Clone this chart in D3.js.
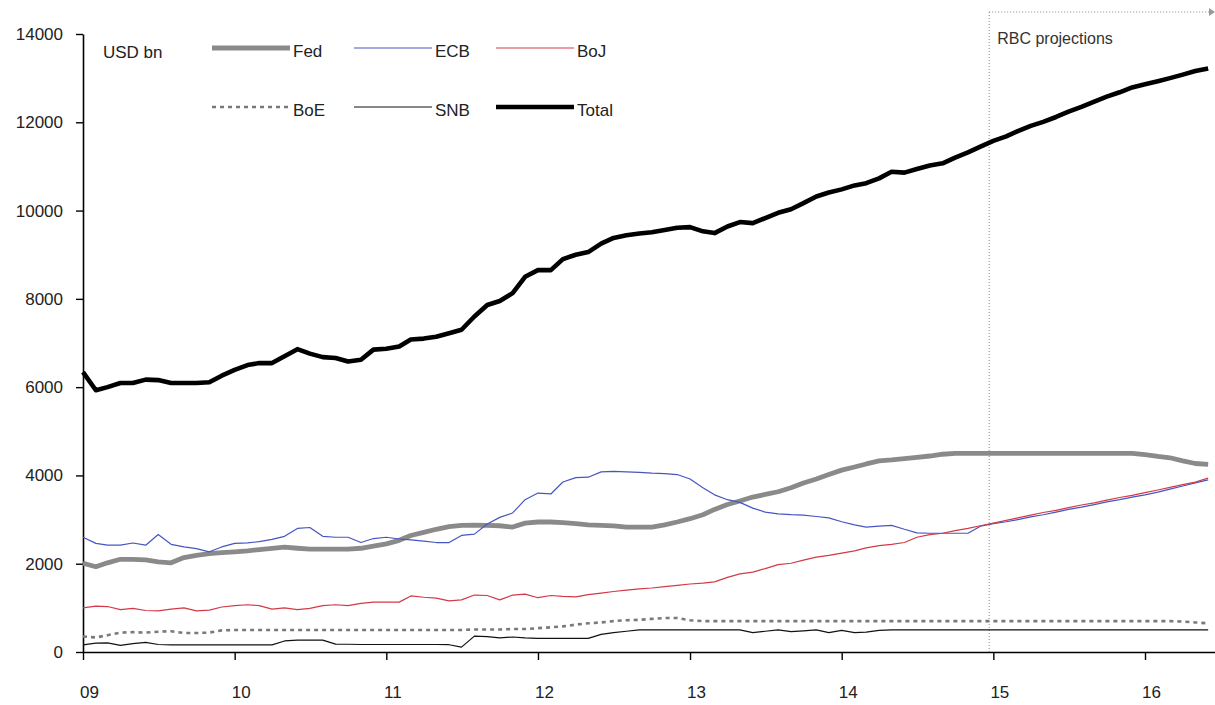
<!DOCTYPE html>
<html>
<head>
<meta charset="utf-8">
<script src="https://cdn.jsdelivr.net/npm/d3@7"></script>
<style>
  body { margin: 0; background: #fff; }
  svg text { font-family: "Liberation Sans", Arial, sans-serif; fill: #222; }
</style>
</head>
<body>
<svg id="chart" width="1215" height="705"></svg>
<script>
// Central bank balance sheets, monthly from Jan 2009, USD bn
const startMonth = "2009-01";

const fed = [
  2010, 1930, 2020, 2100, 2100, 2085, 2040, 2020, 2140, 2190,
  2230, 2250, 2270, 2290, 2320, 2350, 2375, 2350, 2330, 2330,
  2330, 2330, 2350, 2400, 2450, 2530, 2640, 2710, 2780, 2840,
  2870, 2875, 2870, 2860, 2830, 2920, 2945, 2945, 2930, 2910,
  2880, 2870, 2855, 2830, 2830, 2830, 2880, 2945, 3020, 3110,
  3230, 3340, 3420, 3510, 3570, 3630, 3720, 3830, 3920, 4020,
  4120, 4190, 4260, 4330, 4350, 4380, 4410, 4440, 4480, 4500,
  4500, 4500, 4500, 4500, 4500, 4500, 4500, 4500, 4500, 4500,
  4500, 4500, 4500, 4500, 4470, 4430, 4400, 4330, 4270, 4250
];

const ecb = [
  2600, 2460, 2420, 2420, 2470, 2420, 2660, 2440, 2380, 2340,
  2270, 2380, 2460, 2470, 2500, 2550, 2620, 2800, 2820, 2620,
  2600, 2600, 2480, 2570, 2600, 2560, 2540, 2510, 2480, 2480,
  2640, 2670, 2900, 3050, 3150, 3450, 3600, 3580, 3850, 3950,
  3960, 4080, 4090, 4080, 4070, 4050, 4040, 4020, 3920, 3720,
  3560, 3450, 3390, 3260, 3170, 3130, 3110, 3100, 3070, 3040,
  2950, 2880, 2830, 2850, 2870, 2780, 2700, 2690, 2690, 2690,
  2690, 2850, 2910, 2950, 3000, 3060, 3110, 3170, 3230, 3280,
  3340, 3400, 3450, 3510, 3560, 3620, 3690, 3760, 3830, 3900
];

const boj = [
  1000, 1040, 1030, 960, 990, 940, 930, 970, 1000, 930,
  950, 1020, 1050, 1070, 1050, 970, 1000, 960, 990, 1050,
  1070, 1050, 1100, 1130, 1130, 1130, 1270, 1240, 1220, 1160,
  1180, 1290, 1280, 1180, 1290, 1310, 1230, 1280, 1260, 1250,
  1300, 1335, 1370, 1400, 1430, 1450, 1480, 1510, 1540, 1560,
  1590, 1690, 1770, 1810, 1890, 1980, 2010, 2080, 2150, 2190,
  2240, 2290, 2360, 2410, 2440, 2480, 2600, 2660, 2690, 2750,
  2800, 2860, 2920, 2980, 3040, 3100, 3160, 3210, 3270, 3330,
  3380, 3440, 3500, 3550, 3610, 3670, 3730, 3790, 3850, 3940
];

const boe = [
  350, 330, 380, 440, 450, 440, 460, 470, 430, 430,
  440, 490, 500, 500, 500, 500, 500, 500, 500, 500,
  500, 500, 500, 500, 500, 500, 500, 500, 500, 500,
  500, 510, 510, 510, 520, 520, 540, 560, 580, 620,
  650, 670, 700, 720, 730, 750, 770, 770, 720, 700,
  700, 700, 700, 700, 700, 700, 700, 700, 700, 700,
  700, 700, 700, 700, 700, 700, 700, 700, 700, 700,
  700, 700, 700, 700, 700, 700, 700, 700, 700, 700,
  700, 700, 700, 700, 700, 700, 700, 690, 670, 650
];

const snb = [
  160, 200, 205, 150, 190, 220, 170, 160, 160, 160,
  160, 160, 160, 160, 160, 160, 250, 270, 270, 270,
  180, 175, 170, 170, 170, 170, 170, 170, 170, 165,
  110, 360, 350, 320, 340, 320, 310, 310, 310, 310,
  310, 400, 440, 470, 500, 500, 500, 500, 500, 500,
  500, 500, 500, 440, 470, 500, 460, 480, 500, 440,
  490, 440, 450, 490, 500, 500, 500, 500, 500, 500,
  500, 500, 500, 500, 500, 500, 500, 500, 500, 500,
  500, 500, 500, 500, 500, 500, 500, 500, 500, 500
];

const total = [
  6340, 5930, 6000, 6093, 6093, 6170, 6160, 6093, 6093, 6093,
  6110, 6260, 6390, 6500, 6545, 6545, 6700, 6860, 6760, 6680,
  6660, 6580, 6620, 6850, 6870, 6920, 7080, 7100, 7140, 7220,
  7300, 7600, 7860, 7950, 8130, 8500, 8650, 8650, 8900, 9000,
  9060, 9250, 9380, 9440, 9480, 9510, 9560, 9610, 9625, 9530,
  9490, 9640, 9740, 9715, 9830, 9950, 10030, 10170, 10320, 10410,
  10480, 10570, 10620, 10730, 10880, 10860, 10940, 11020, 11070, 11200,
  11320, 11450, 11580, 11680, 11800, 11920, 12010, 12120, 12240, 12350,
  12470, 12580, 12680, 12790, 12860, 12930, 13000, 13080, 13160, 13220
];

const yTicks = [0, 2000, 4000, 6000, 8000, 10000, 12000, 14000];
const xTickYears = [2009, 2010, 2011, 2012, 2013, 2014, 2015, 2016];
const projectionStart = "2014-12-22";
const unitLabel = "USD bn";
const projectionLabel = "RBC projections";

// Drawing styles per series (legend order: two rows of three)
const series = [
  { name: "Fed",   values: fed,   color: "#8a8a8a", width: 4.8, dash: null },
  { name: "ECB",   values: ecb,   color: "#4656c0", width: 1.2, dash: null },
  { name: "BoJ",   values: boj,   color: "#d23a48", width: 1.2, dash: null },
  { name: "BoE",   values: boe,   color: "#7a7a7a", width: 2.6, dash: "4,4" },
  { name: "SNB",   values: snb,   color: "#111111", width: 1.2, dash: null },
  { name: "Total", values: total, color: "#000000", width: 4.6, dash: null }
];

const svg = d3.select("#chart");
const parseMonth = d3.timeParse("%Y-%m");
const parseDay = d3.timeParse("%Y-%m-%d");
const firstMonth = parseMonth(startMonth);
const dates = total.map((_, i) => d3.timeMonth.offset(firstMonth, i));

const plotLeft = 83, axisY = 652, plotTop = 34, plotRight = 1215;
const fontSize = 17;
const xBase = d3.scaleTime()
  .domain([new Date(2009, 0, 1), new Date(2016, 0, 1)])
  .range([plotLeft, 1145]);
const x = d3.scaleTime()
  .domain([xBase.domain()[0], xBase.invert(plotRight)])
  .range([plotLeft, plotRight]);
const y = d3.scaleLinear().domain([0, 14000]).range([axisY, plotTop]);

// Projection window: dotted frame from the start of the forecast period
const px = x(parseDay(projectionStart));
const frameTop = 12;
const frame = svg.append("g").attr("stroke", "#888").attr("stroke-width", 1)
  .attr("stroke-dasharray", "1,2").attr("fill", "none");
frame.append("line").attr("x1", px).attr("x2", px).attr("y1", frameTop).attr("y2", axisY);
frame.append("line").attr("x1", px).attr("x2", plotRight - 6).attr("y1", frameTop).attr("y2", frameTop);
svg.append("path")
  .attr("d", `M${plotRight - 6},${frameTop - 4}L${plotRight},${frameTop}L${plotRight - 6},${frameTop + 4}Z`)
  .attr("fill", "#999");
svg.append("text").attr("x", px + 8).attr("y", 44)
  .attr("font-size", 16).style("fill", "#333").text(projectionLabel);

// Axes
const yAxis = d3.axisLeft(y).tickValues(yTicks).tickSize(7).tickSizeOuter(0).tickPadding(13)
  .tickFormat(d3.format("d"));
const gy = svg.append("g").attr("transform", `translate(${plotLeft},0)`).call(yAxis);
gy.selectAll("text").attr("font-size", fontSize);

const xAxis = d3.axisBottom(x)
  .tickValues(xTickYears.map(yr => new Date(yr, 0, 1)))
  .tickSize(8).tickSizeOuter(0).tickPadding(26)
  .tickFormat(d3.timeFormat("%y"));
const gx = svg.append("g").attr("transform", `translate(0,${axisY})`).call(xAxis);
gx.selectAll("text").attr("font-size", fontSize).attr("dx", 6);

[gx, gy].forEach(g => {
  g.select(".domain").attr("stroke", "#000").attr("stroke-width", 1.6);
  g.selectAll(".tick line").attr("stroke", "#000").attr("stroke-width", 1.4);
});

// Series lines
const line = d3.line().x((d, i) => x(dates[i])).y(d => y(d));
svg.append("g").selectAll("path").data(series).join("path")
  .attr("d", s => line(s.values))
  .attr("fill", "none")
  .attr("stroke", s => s.color)
  .attr("stroke-width", s => s.width)
  .attr("stroke-dasharray", s => s.dash)
  .attr("stroke-linejoin", "round");

// Unit label and legend
svg.append("text").attr("x", 103).attr("y", 58).attr("font-size", fontSize).text(unitLabel);

const legend = svg.append("g");
const item = legend.selectAll("g").data(series).join("g")
  .attr("transform", (s, i) => `translate(${212 + (i % 3) * 142},${i < 3 ? 48 : 107})`);
item.append("line").attr("x1", 0).attr("x2", 78).attr("y1", 0).attr("y2", 0)
  .attr("stroke", s => s.color)
  .attr("stroke-width", s => s.width)
  .attr("stroke-dasharray", s => s.dash);
item.append("text").attr("x", 81).attr("y", 9).attr("font-size", fontSize).text(s => s.name);
</script>
</body>
</html>
